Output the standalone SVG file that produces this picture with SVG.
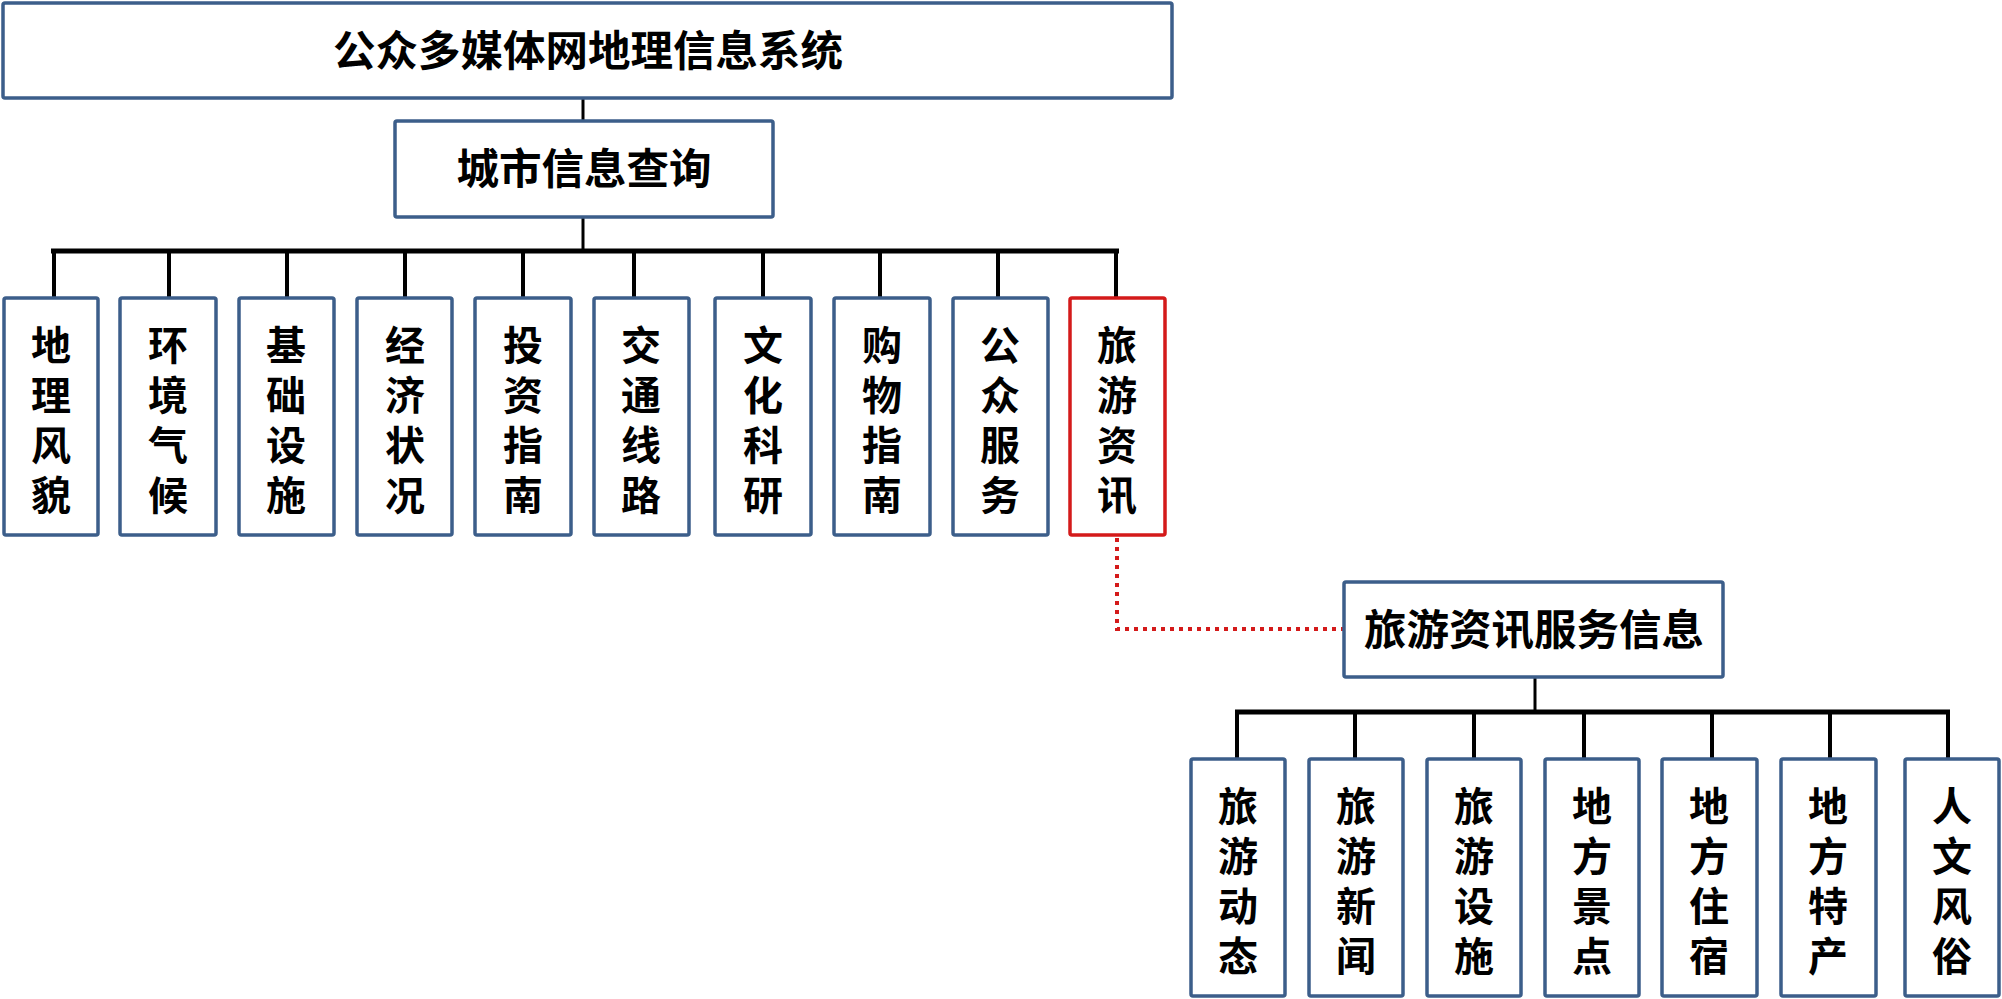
<svg xmlns="http://www.w3.org/2000/svg" width="2002" height="999" viewBox="0 0 2002 999">
<style>
.box{fill:#fff;stroke:#3C5E8A;stroke-width:3.5}
.red{fill:#fff;stroke:#D41A1A;stroke-width:3.5}
.t{font-family:"Noto Sans CJK SC","Noto Sans",sans-serif;font-weight:bold;font-size:40px;fill:#000;text-anchor:middle}
.h{font-size:42.5px}
.ln{stroke:#000;fill:none}
</style>
<rect width="2002" height="999" fill="#fff"/>
<g id="connectors">
<line class="ln" x1="583" y1="98" x2="583" y2="121" stroke-width="3"/>
<line class="ln" x1="583" y1="217" x2="583" y2="251" stroke-width="3"/>
<line class="ln" x1="51" y1="251" x2="1119" y2="251" stroke-width="5"/>
<g stroke="#000" stroke-width="4">
<line x1="54" y1="251" x2="54" y2="298"/>
<line x1="169" y1="251" x2="169" y2="298"/>
<line x1="287" y1="251" x2="287" y2="298"/>
<line x1="405" y1="251" x2="405" y2="298"/>
<line x1="523" y1="251" x2="523" y2="298"/>
<line x1="634" y1="251" x2="634" y2="298"/>
<line x1="763" y1="251" x2="763" y2="298"/>
<line x1="880" y1="251" x2="880" y2="298"/>
<line x1="998" y1="251" x2="998" y2="298"/>
<line x1="1116" y1="251" x2="1116" y2="298"/>
</g>
<path d="M1117 538 V629 H1343" fill="none" stroke="#D41A1A" stroke-width="4" stroke-dasharray="4 5"/>
<line class="ln" x1="1535" y1="677" x2="1535" y2="712" stroke-width="3"/>
<line class="ln" x1="1235" y1="712" x2="1950" y2="712" stroke-width="5"/>
<g stroke="#000" stroke-width="4">
<line x1="1237" y1="712" x2="1237" y2="759"/>
<line x1="1355" y1="712" x2="1355" y2="759"/>
<line x1="1474" y1="712" x2="1474" y2="759"/>
<line x1="1584" y1="712" x2="1584" y2="759"/>
<line x1="1712" y1="712" x2="1712" y2="759"/>
<line x1="1830" y1="712" x2="1830" y2="759"/>
<line x1="1948" y1="712" x2="1948" y2="759"/>
</g>
</g>
<g id="root"><rect class="box" x="3" y="3" width="1169" height="95" rx="2"/><text class="t h" x="588" y="66">公众多媒体网地理信息系统</text></g>
<g id="city"><rect class="box" x="395" y="121" width="378" height="96" rx="2"/><text class="t h" x="584" y="184">城市信息查询</text></g>
<g id="n1"><rect class="box" x="4" y="298" width="94" height="237" rx="2"/><text class="t" x="51" y="360">地</text><text class="t" x="51" y="410">理</text><text class="t" x="51" y="460">风</text><text class="t" x="51" y="510">貌</text></g>
<g id="n2"><rect class="box" x="120" y="298" width="96" height="237" rx="2"/><text class="t" x="168" y="360">环</text><text class="t" x="168" y="410">境</text><text class="t" x="168" y="460">气</text><text class="t" x="168" y="510">候</text></g>
<g id="n3"><rect class="box" x="239" y="298" width="95" height="237" rx="2"/><text class="t" x="286" y="360">基</text><text class="t" x="286" y="410">础</text><text class="t" x="286" y="460">设</text><text class="t" x="286" y="510">施</text></g>
<g id="n4"><rect class="box" x="357" y="298" width="95" height="237" rx="2"/><text class="t" x="405" y="360">经</text><text class="t" x="405" y="410">济</text><text class="t" x="405" y="460">状</text><text class="t" x="405" y="510">况</text></g>
<g id="n5"><rect class="box" x="475" y="298" width="96" height="237" rx="2"/><text class="t" x="523" y="360">投</text><text class="t" x="523" y="410">资</text><text class="t" x="523" y="460">指</text><text class="t" x="523" y="510">南</text></g>
<g id="n6"><rect class="box" x="594" y="298" width="95" height="237" rx="2"/><text class="t" x="641" y="360">交</text><text class="t" x="641" y="410">通</text><text class="t" x="641" y="460">线</text><text class="t" x="641" y="510">路</text></g>
<g id="n7"><rect class="box" x="715" y="298" width="96" height="237" rx="2"/><text class="t" x="763" y="360">文</text><text class="t" x="763" y="410">化</text><text class="t" x="763" y="460">科</text><text class="t" x="763" y="510">研</text></g>
<g id="n8"><rect class="box" x="834" y="298" width="96" height="237" rx="2"/><text class="t" x="882" y="360">购</text><text class="t" x="882" y="410">物</text><text class="t" x="882" y="460">指</text><text class="t" x="882" y="510">南</text></g>
<g id="n9"><rect class="box" x="953" y="298" width="95" height="237" rx="2"/><text class="t" x="1000" y="360">公</text><text class="t" x="1000" y="410">众</text><text class="t" x="1000" y="460">服</text><text class="t" x="1000" y="510">务</text></g>
<g id="n10"><rect class="red" x="1070" y="298" width="95" height="237" rx="2"/><text class="t" x="1117" y="360">旅</text><text class="t" x="1117" y="410">游</text><text class="t" x="1117" y="460">资</text><text class="t" x="1117" y="510">讯</text></g>
<g id="travel"><rect class="box" x="1344" y="582" width="379" height="95" rx="2"/><text class="t h" x="1534" y="645">旅游资讯服务信息</text></g>
<g id="m1"><rect class="box" x="1191" y="759" width="94" height="237" rx="2"/><text class="t" x="1238" y="821">旅</text><text class="t" x="1238" y="871">游</text><text class="t" x="1238" y="921">动</text><text class="t" x="1238" y="971">态</text></g>
<g id="m2"><rect class="box" x="1309" y="759" width="94" height="237" rx="2"/><text class="t" x="1356" y="821">旅</text><text class="t" x="1356" y="871">游</text><text class="t" x="1356" y="921">新</text><text class="t" x="1356" y="971">闻</text></g>
<g id="m3"><rect class="box" x="1427" y="759" width="94" height="237" rx="2"/><text class="t" x="1474" y="821">旅</text><text class="t" x="1474" y="871">游</text><text class="t" x="1474" y="921">设</text><text class="t" x="1474" y="971">施</text></g>
<g id="m4"><rect class="box" x="1545" y="759" width="94" height="237" rx="2"/><text class="t" x="1592" y="821">地</text><text class="t" x="1592" y="871">方</text><text class="t" x="1592" y="921">景</text><text class="t" x="1592" y="971">点</text></g>
<g id="m5"><rect class="box" x="1662" y="759" width="95" height="237" rx="2"/><text class="t" x="1709" y="821">地</text><text class="t" x="1709" y="871">方</text><text class="t" x="1709" y="921">住</text><text class="t" x="1709" y="971">宿</text></g>
<g id="m6"><rect class="box" x="1781" y="759" width="95" height="237" rx="2"/><text class="t" x="1828" y="821">地</text><text class="t" x="1828" y="871">方</text><text class="t" x="1828" y="921">特</text><text class="t" x="1828" y="971">产</text></g>
<g id="m7"><rect class="box" x="1905" y="759" width="94" height="237" rx="2"/><text class="t" x="1952" y="821">人</text><text class="t" x="1952" y="871">文</text><text class="t" x="1952" y="921">风</text><text class="t" x="1952" y="971">俗</text></g>
</svg>
